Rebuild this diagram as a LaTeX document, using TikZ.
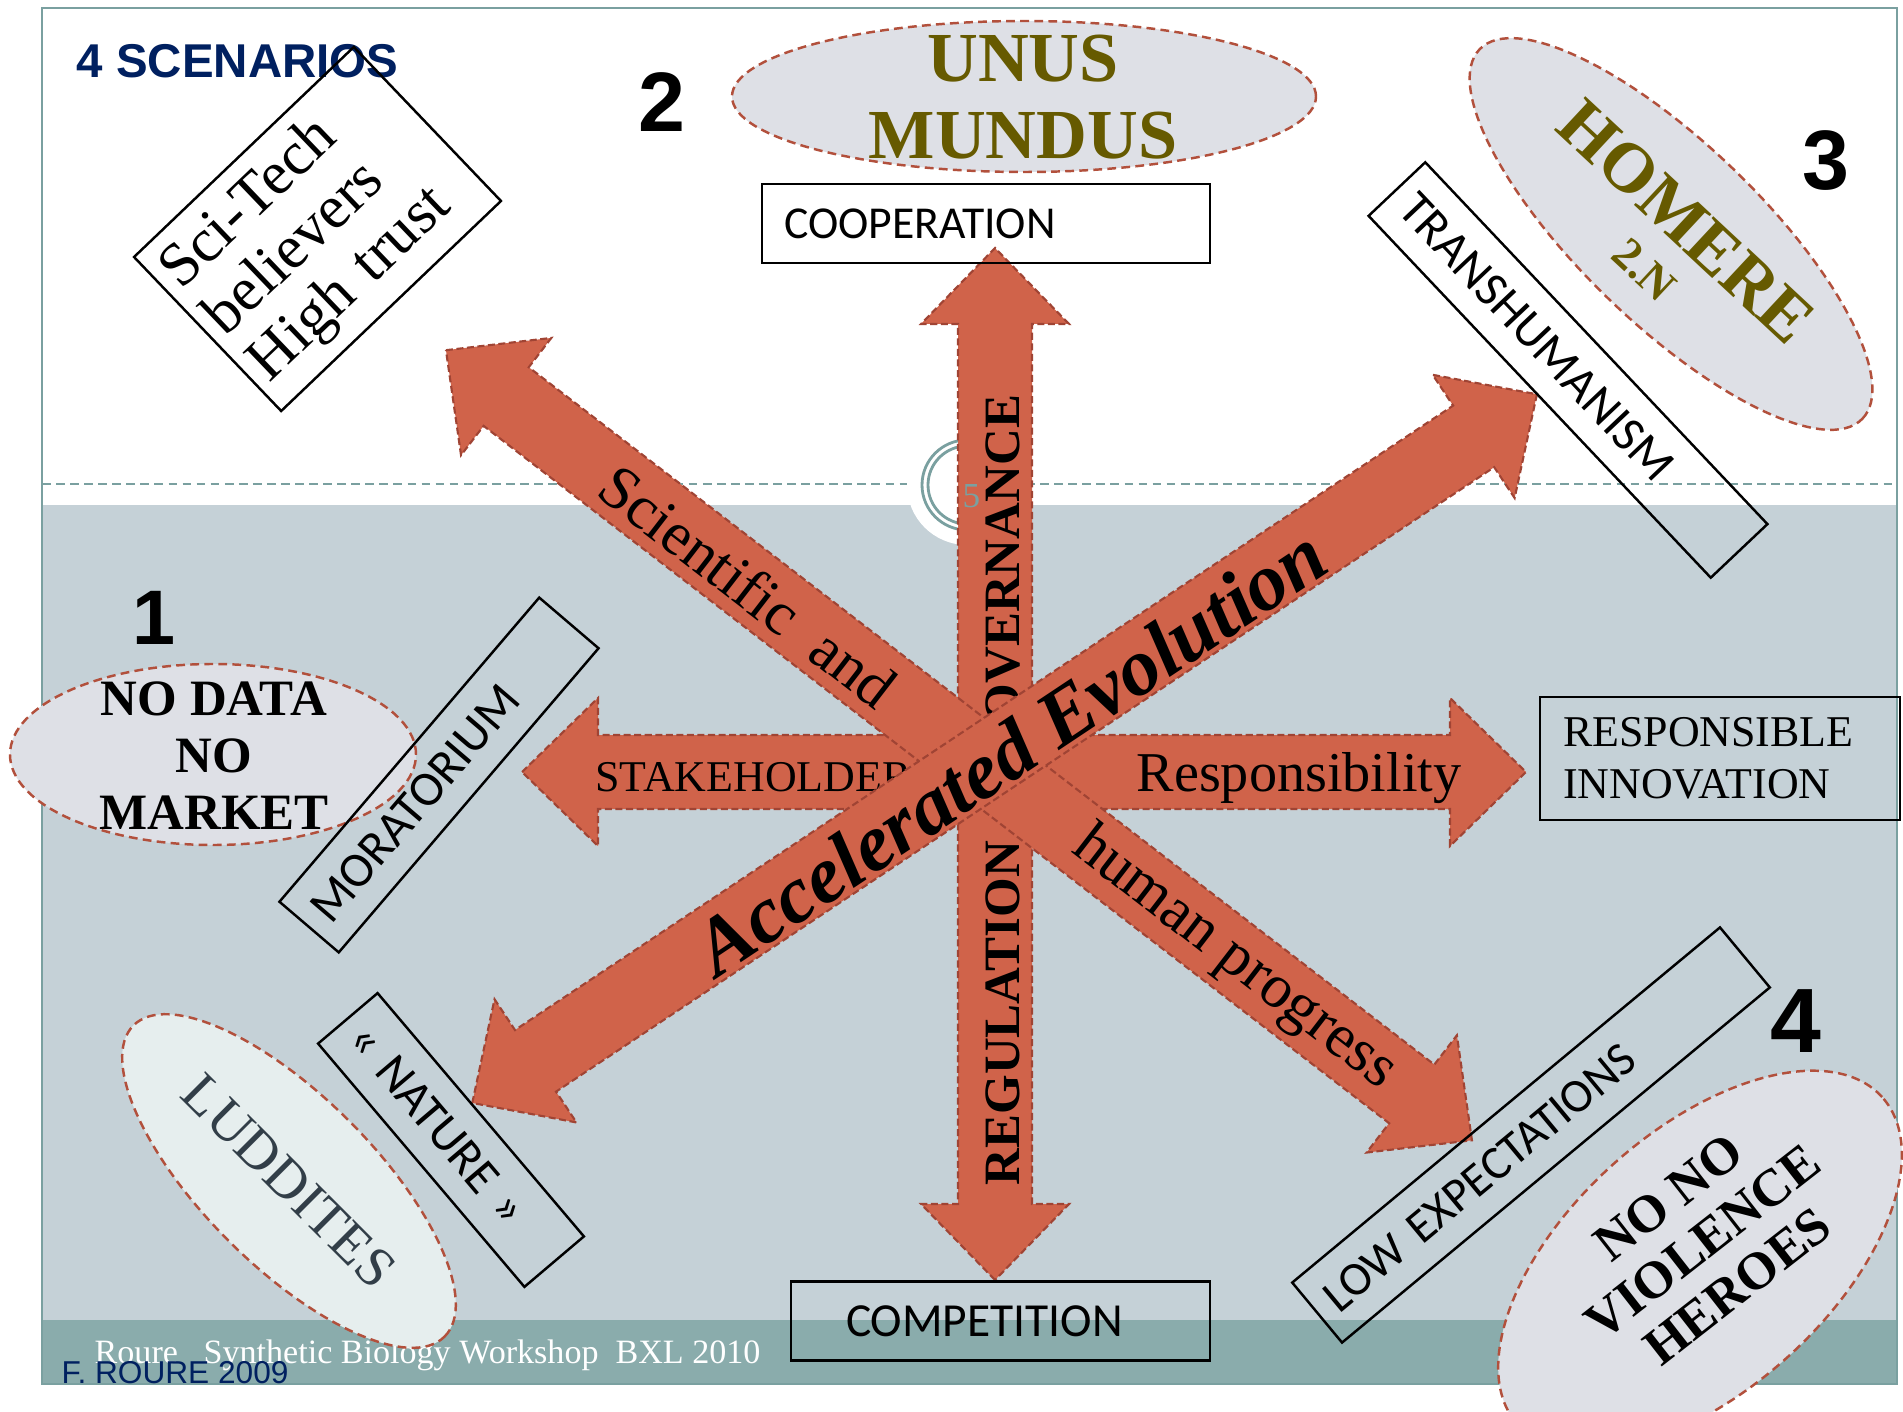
\documentclass[tikz,border=0pt]{standalone}
\usepackage{fontspec}
\setmainfont{Liberation Serif}
\setsansfont{Liberation Sans}
\newfontfamily\calibri{Carlito}
\usetikzlibrary{shapes.geometric}

\definecolor{coral}{RGB}{208,99,74}
\definecolor{coraledge}{RGB}{160,68,52}
\definecolor{slate}{RGB}{197,209,215}
\definecolor{band}{RGB}{138,172,172}
\definecolor{tealline}{RGB}{122,160,160}
\definecolor{blobfill}{RGB}{222,224,230}
\definecolor{blobpale}{RGB}{230,238,238}
\definecolor{blobedge}{RGB}{178,80,60}
\definecolor{olive}{RGB}{102,90,0}
\definecolor{navy}{RGB}{0,32,96}
\definecolor{ludd}{RGB}{50,62,72}

\tikzset{
	arrowbody/.style={fill=coral, draw=coraledge, line width=0.6pt, dash pattern=on 2pt off 1pt},
	blob/.style={ellipse, fill=blobfill, draw=blobedge, line width=0.7pt, dash pattern=on 2.5pt off 1.5pt, inner sep=0pt},
	tagbox/.style={draw, line width=0.7pt, inner ysep=0pt, inner xsep=0.16cm, minimum height=0.78cm, align=left, font=\calibri\fontsize{14}{16}\selectfont},
	plainbox/.style={draw, line width=0.7pt, inner ysep=0pt, align=left},
	scen/.style={font=\sffamily\bfseries\fontsize{24}{24}\selectfont},
}

% double headed block arrow: centre, angle, back length, front length
\newcommand{\twoway}[4]{%
	\draw[arrowbody, shift={#1}, rotate=#2] (-#3,0) -- (-#3+0.76,0.74) -- (-#3+0.76,0.37)
		-- (#4-0.76,0.37) -- (#4-0.76,0.74) -- (#4,0) -- (#4-0.76,-0.74) -- (#4-0.76,-0.37)
		-- (-#3+0.76,-0.37) -- (-#3+0.76,-0.74) -- cycle;}

\begin{document}
\begin{tikzpicture}
	\useasboundingbox (0,0) rectangle (19.03,14.11);
	% slide background
	\fill[white] (0,0) rectangle (19.03,14.11);
	\fill[slate] (0.42,0.91) rectangle (18.97,9.06);
	\fill[band] (0.42,0.27) rectangle (18.97,0.91);
	\draw[tealline, line width=0.6pt, dash pattern=on 2.5pt off 1.5pt] (0.42,9.27) -- (18.97,9.27);
	\draw[tealline, line width=0.8pt] (0.42,0.27) rectangle (18.97,14.03);
	\fill[white] (9.67,9.26) circle (0.60);
	\draw[tealline, line width=0.8pt] (9.67,9.26) circle (0.45) (9.67,9.26) circle (0.39);
	\node[anchor=base west, inner sep=0pt, text=white, font=\fontsize{9.7}{9.7}\selectfont] (footer) at (0.94,0.48) {Roure\ \ \ Synthetic Biology Workshop\ \ BXL 2010};
	\node[anchor=base west, inner sep=0pt, text=navy, font=\sffamily\fontsize{9}{9}\selectfont] (author) at (0.61,0.28) {F. ROURE 2009};
	\node[anchor=base west, inner sep=0pt, text=navy, font=\sffamily\bfseries\fontsize{13.5}{13.5}\selectfont] (title) at (0.76,13.33) {4 SCENARIOS};

	% scenario numbers
	\node[scen] (n2) at (6.62,13.085) {2};
	\node[scen] (n3) at (18.26,12.50) {3};
	\node[scen, font=\sffamily\bfseries\fontsize{22}{22}\selectfont] (n1) at (1.54,7.935) {1};
	\node[scen, font=\sffamily\bfseries\fontsize{26}{26}\selectfont] (n4) at (17.96,3.90) {4};

	% scenario ellipses
	\node[blob, minimum width=5.84cm, minimum height=1.51cm] (unus) at (10.24,13.145) {};
	\node[align=center, text=olive, font=\bfseries\fontsize{20}{22}\selectfont] (unustext) at (10.23,13.14) {UNUS\\MUNDUS};
	\node[blob, rotate=-44, minimum width=5.32cm, minimum height=1.80cm] (homere) at (16.71,11.77) {};
	\node[rotate=-43, text=olive, font=\bfseries\fontsize{20}{20}\selectfont] (homeretext) at (16.86,11.89) {HOMERE};
	\node[rotate=-43, text=olive, font=\bfseries\fontsize{13}{13}\selectfont] (homerenum) at (16.44,11.41) {2.N};
	\node[blob, minimum width=4.06cm, minimum height=1.81cm] (nodata) at (2.13,6.565) {};
	\node[align=center, font=\bfseries\fontsize{14.5}{16.2}\selectfont] (nodatatext) at (2.14,6.555) {NO DATA\\NO\\MARKET};
	\node[blob, fill=blobpale, rotate=-45, minimum width=4.40cm, minimum height=1.70cm] (luddites) at (2.89,2.30) {};
	\node[rotate=-45, text=ludd, font=\fontsize{16}{16}\selectfont] (ludditestext) at (2.89,2.30) {LUDDITES};
	\node[blob, rotate=42, minimum width=4.90cm, minimum height=2.60cm] (nono) at (17.00,1.50) {};
	\node[rotate=38, align=center, font=\bfseries\fontsize{15}{16}\selectfont] (nonotext) at (17.03,1.69) {NO NO\\VIOLENCE\\HEROES};

	% the star of arrows
	\twoway{(9.95,6.39)}{0}{4.73}{5.31}
	\node[anchor=base west, font=\fontsize{12.5}{12.5}\selectfont] (stake) at (5.83,6.20) {STAKEHOLDERS};
	\node[anchor=base, font=\fontsize{16}{16}\selectfont] (resp) at (12.99,6.20) {Responsibility};
	\twoway{(9.95,6.39)}{90}{5.08}{5.24}
	\node[rotate=90, font=\bfseries\fontsize{14.5}{14.5}\selectfont] (gov) at (10.03,8.32) {GOVERNANCE};
	\node[rotate=90, font=\bfseries\fontsize{14.5}{14.5}\selectfont] (reg) at (10.03,3.98) {REGULATION};
	\twoway{(9.95,6.38)}{-37.6}{6.93}{6.02}
	\node[rotate=-37.6, font=\fontsize{17.5}{17.5}\selectfont] (sci) at (7.48,8.25) {Scientific\ \ and};
	\node[rotate=-37.6, font=\fontsize{17.5}{17.5}\selectfont] (human) at (12.34,4.52) {human progress};
	\twoway{(9.95,6.56)}{33.65}{6.28}{6.51}
	\node[rotate=33.65, font=\bfseries\itshape\fontsize{23}{23}\selectfont] (accel) at (10.10,6.60) {Accelerated Evolution};
	\node[text=tealline, font=\fontsize{10}{10}\selectfont] (slideno) at (9.715,9.15) {5};

	% outcome boxes
	\node[plainbox, text width=4.04cm, inner xsep=0.22cm, minimum height=0.79cm, font=\calibri\fontsize{13}{13}\selectfont] (coop) at (9.86,11.875) {COOPERATION};
	\node[plainbox, text width=3.09cm, inner xsep=0.55cm, minimum height=0.79cm, font=\calibri\fontsize{13.5}{13.5}\selectfont] (comp) at (10.005,0.90) {COMPETITION};
	\node[plainbox, text width=3.14cm, inner xsep=0.23cm, minimum height=1.23cm, font=\fontsize{12.5}{14.8}\selectfont] (respinn) at (17.20,6.525) {RESPONSIBLE\\INNOVATION};
	\node[plainbox, rotate=43.7, text width=2.82cm, inner xsep=0.11cm, minimum height=2.13cm, font=\fontsize{17.5}{18.2}\selectfont] (scitech) at (3.175,11.82) {Sci-Tech\\believers\\High trust};
	\node[tagbox, rotate=-46.6, text width=4.66cm] (transh) at (15.68,10.41) {TRANSHUMANISM};
	\node[tagbox, rotate=49.5, text width=3.68cm] (morat) at (4.39,6.36) {MORATORIUM};
	\node[tagbox, rotate=-49.7, text width=2.87cm] (nature) at (4.51,2.71) {« NATURE »};
	\node[tagbox, rotate=39.7, text width=5.24cm, font=\calibri\fontsize{13.5}{16}\selectfont] (lowexp) at (15.31,2.76) {LOW EXPECTATIONS};
\end{tikzpicture}
\end{document}
